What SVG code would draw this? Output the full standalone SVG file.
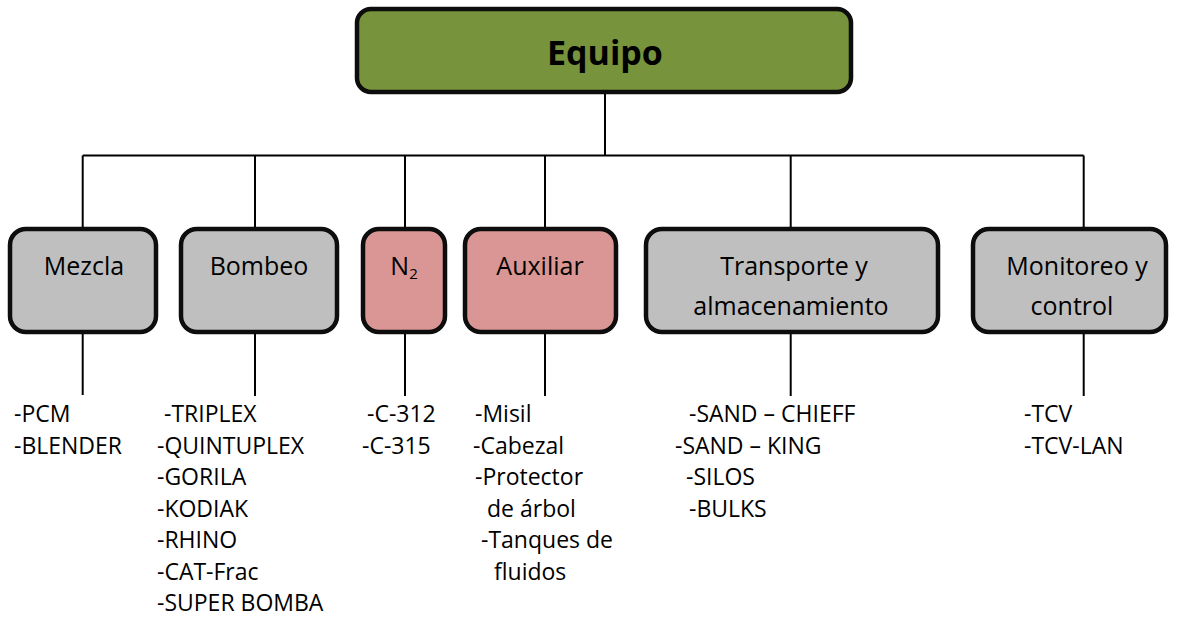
<svg xmlns="http://www.w3.org/2000/svg" width="1177" height="620" viewBox="0 0 1177 620">
  <style>
    .box { stroke: #0d0d0d; stroke-width: 4.5; }
    .green { fill: #77933C; }
    .gray { fill: #BFBFBF; }
    .pink { fill: #D99694; }
    .lbl { font-family: "Open Sans", "Liberation Sans", sans-serif; font-size: 25px; fill: #000; text-anchor: middle; }
    .title { font-family: "Open Sans", "Liberation Sans", sans-serif; font-size: 34px; font-weight: bold; fill: #000; text-anchor: middle; }
    .item { font-family: "Open Sans", "Liberation Sans", sans-serif; font-size: 23px; fill: #000; }
    .conn { stroke: #000; stroke-width: 2; fill: none; }
  </style>
  <rect width="1177" height="620" fill="#ffffff"/>

  <g id="connectors">
    <line class="conn" x1="605" y1="92" x2="605" y2="156"/>
    <line class="conn" x1="82.7" y1="155.5" x2="1083.7" y2="155.5"/>
    <polyline class="conn" points="82.7,155.5 82.7,227"/>
    <polyline class="conn" points="1083.7,155.5 1083.7,227"/>
    <line class="conn" x1="255" y1="156" x2="255" y2="227"/>
    <line class="conn" x1="405" y1="156" x2="405" y2="227"/>
    <line class="conn" x1="545" y1="156" x2="545" y2="227"/>
    <line class="conn" x1="790.7" y1="156" x2="790.7" y2="227"/>
    <line class="conn" x1="82.7" y1="334" x2="82.7" y2="395"/>
    <line class="conn" x1="255" y1="334" x2="255" y2="396"/>
    <line class="conn" x1="405" y1="334" x2="405" y2="396"/>
    <line class="conn" x1="545" y1="334" x2="545" y2="396"/>
    <line class="conn" x1="790.7" y1="334" x2="790.7" y2="396"/>
    <line class="conn" x1="1083.7" y1="334" x2="1083.7" y2="396"/>
  </g>

  <g id="equipo">
    <rect class="box green" x="357" y="9" width="494" height="83" rx="14"/>
    <text class="title" x="605" y="65">Equipo</text>
  </g>

  <g id="mezcla">
    <rect class="box gray" x="10" y="229" width="146" height="103" rx="16"/>
    <text class="lbl" x="84" y="275">Mezcla</text>
  </g>
  <g id="bombeo">
    <rect class="box gray" x="181" y="229" width="156" height="103" rx="16"/>
    <text class="lbl" x="259" y="275">Bombeo</text>
  </g>
  <g id="n2">
    <rect class="box pink" x="363" y="229" width="82" height="103" rx="16"/>
    <text class="lbl" x="404" y="275">N<tspan font-size="15" dy="4">2</tspan></text>
  </g>
  <g id="auxiliar">
    <rect class="box pink" x="465" y="229" width="151" height="103" rx="16"/>
    <text class="lbl" x="540" y="275">Auxiliar</text>
  </g>
  <g id="transporte">
    <rect class="box gray" x="646" y="229" width="292" height="103" rx="16"/>
    <text class="lbl" x="794" y="275">Transporte y</text>
    <text class="lbl" x="791" y="315">almacenamiento</text>
  </g>
  <g id="monitoreo">
    <rect class="box gray" x="973" y="229" width="193" height="103" rx="16"/>
    <text class="lbl" x="1077" y="275">Monitoreo y</text>
    <text class="lbl" x="1072" y="315">control</text>
  </g>

  <g id="list-mezcla">
    <text class="item" x="14" y="422">-PCM</text>
    <text class="item" x="14" y="453.5">-BLENDER</text>
  </g>
  <g id="list-bombeo">
    <text class="item" x="164" y="422">-TRIPLEX</text>
    <text class="item" x="157" y="453.5">-QUINTUPLEX</text>
    <text class="item" x="157" y="485">-GORILA</text>
    <text class="item" x="157" y="516.5">-KODIAK</text>
    <text class="item" x="157" y="548">-RHINO</text>
    <text class="item" x="157" y="579.5">-CAT-Frac</text>
    <text class="item" x="157" y="611">-SUPER BOMBA</text>
  </g>
  <g id="list-n2">
    <text class="item" x="367" y="422">-C-312</text>
    <text class="item" x="362" y="453.5">-C-315</text>
  </g>
  <g id="list-auxiliar">
    <text class="item" x="475" y="422">-Misil</text>
    <text class="item" x="473" y="453.5">-Cabezal</text>
    <text class="item" x="475" y="485">-Protector</text>
    <text class="item" x="487" y="516.5">de árbol</text>
    <text class="item" x="481" y="548">-Tanques de</text>
    <text class="item" x="494" y="579.5">fluidos</text>
  </g>
  <g id="list-transporte">
    <text class="item" x="689" y="422">-SAND – CHIEFF</text>
    <text class="item" x="675" y="453.5">-SAND – KING</text>
    <text class="item" x="686" y="485">-SILOS</text>
    <text class="item" x="689" y="516.5">-BULKS</text>
  </g>
  <g id="list-monitoreo">
    <text class="item" x="1024" y="422">-TCV</text>
    <text class="item" x="1024" y="453.5">-TCV-LAN</text>
  </g>
</svg>
